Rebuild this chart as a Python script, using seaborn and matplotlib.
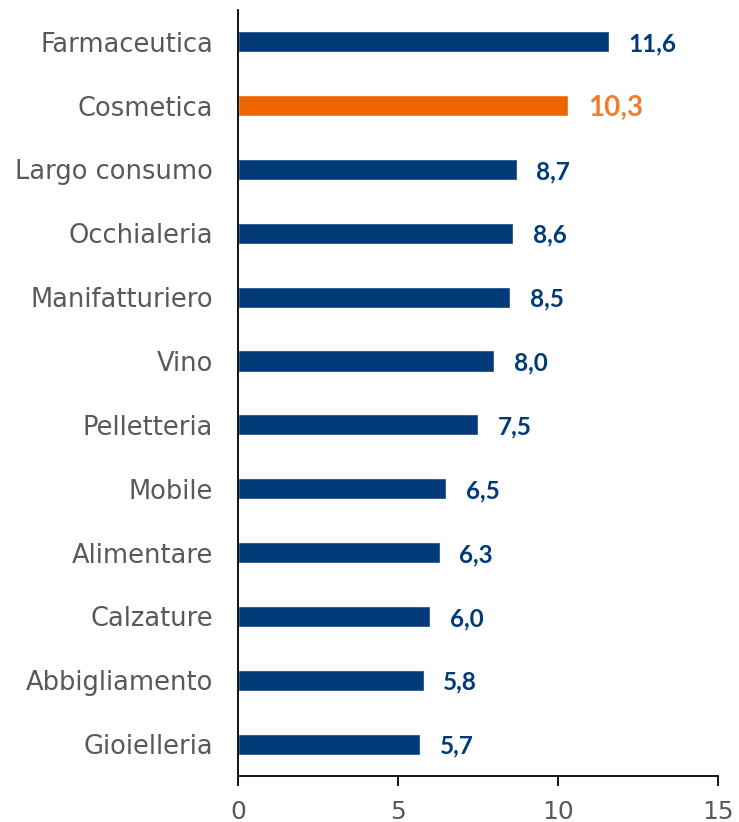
import matplotlib
matplotlib.use("Agg")
import matplotlib.pyplot as plt
import seaborn as sns
import pandas as pd

categories = ["Farmaceutica", "Cosmetica", "Largo consumo", "Occhialeria",
              "Manifatturiero", "Vino", "Pelletteria", "Mobile", "Alimentare",
              "Calzature", "Abbigliamento", "Gioielleria"]
values = [11.6, 10.3, 8.7, 8.6, 8.5, 8.0, 7.5, 6.5, 6.3, 6.0, 5.8, 5.7]
highlight = "Cosmetica"
x_ticks = [0, 5, 10, 15]

NAVY = "#003A78"
ORANGE = "#EE6500"
ORANGE_TXT = "#F07D2E"
GRAY = "#595959"

sns.set_theme(style="white")
plt.rcParams["font.family"] = ["DejaVu Sans"]

df = pd.DataFrame({"cat": categories, "val": values})
df["grp"] = ["hl" if c == highlight else "base" for c in categories]

fig = plt.figure(figsize=(7.39, 8.22), dpi=100)
ax = fig.add_axes([0.322, 0.056, 0.650, 0.932])
sns.barplot(data=df, x="val", y="cat", hue="grp",
            palette={"base": NAVY, "hl": ORANGE}, dodge=False,
            width=0.33, legend=False, ax=ax, saturation=1)

ax.set_xlim(0, 15)
ax.set_ylim(11.5, -0.5)
ax.set_xticks(x_ticks)
ax.set_xlabel("")
ax.set_ylabel("")

for i, (c, v) in enumerate(zip(categories, values)):
    lab = f"{v:.1f}".replace(".", ",")
    if c == highlight:
        ax.annotate(lab, (v, i), xytext=(14.5, -1.5), textcoords="offset points",
                    ha="left", va="center", fontsize=20, fontweight="bold",
                    color=ORANGE_TXT, family=["Lato", "DejaVu Sans"])
    else:
        ax.annotate(lab, (v, i), xytext=(14, -1.5), textcoords="offset points",
                    ha="left", va="center", fontsize=17.5, fontweight="bold",
                    color=NAVY, family=["Lato", "DejaVu Sans"])

for s in ["top", "right"]:
    ax.spines[s].set_visible(False)
for s in ["left", "bottom"]:
    ax.spines[s].set_color("black")
    ax.spines[s].set_linewidth(1.3)

ax.tick_params(axis="x", bottom=True, direction="out", length=7, width=1.3,
               color="black", labelsize=18, labelcolor=GRAY, pad=10)
ax.tick_params(axis="y", left=False, length=0, labelsize=18.5,
               labelcolor=GRAY, pad=18)

fig.savefig("out.png", dpi=100)
